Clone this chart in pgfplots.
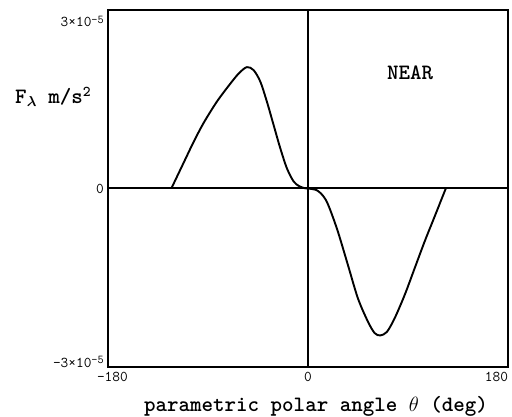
\documentclass[border=0pt]{standalone}
\usepackage{fontspec}
\usepackage{pgfplots}
\pgfplotsset{compat=1.18}

% tick labels: typewriter, superscript exponent
\newcommand{\sci}[2]{#1×10\raisebox{0.55ex}{\fontsize{12}{12}\selectfont #2}}

\begin{document}
\begin{tikzpicture}
\begin{axis}[
  name=ax, at={(0,0)}, anchor=south west,
  scale only axis, width=400bp, height=357bp,
  xmin=-180, xmax=180, ymin=-3e-5, ymax=3e-5,
  scaled y ticks=false,
  xtick={-180,0,180},
  xticklabels={\makebox[0pt][l]{\hspace*{-11bp}-180},0,\makebox[0pt][r]{180}},
  ytick={-3e-5,0,3e-5},
  yticklabels={\raisebox{0bp}[0pt][0pt]{\sci{-3}{-5}},
               \raisebox{-5bp}[0pt][0pt]{0},
               \raisebox{-17bp}[0pt][0pt]{\sci{3}{-5}}},
  tick style={draw=none},
  ticklabel style={font=\ttfamily\fontsize{15}{15}\selectfont},
  xticklabel style={anchor=north, yshift=-2bp},
  yticklabel style={anchor=east, inner sep=0pt, xshift=-4bp},
  axis line style={line width=1.5bp},
  clip=false,
]
  % coordinate axes through the origin
  \draw[line width=2bp] (axis cs:-180,0) -- (axis cs:180,0);
  \draw[line width=1.5bp] (axis cs:0,-3e-5) -- (axis cs:0,3e-5);

  \addplot[black, line width=1.9bp, smooth] coordinates {
    (-123,0) (-112,0.43e-5) (-103,0.78e-5) (-94,1.10e-5) (-82,1.46e-5)
    (-70,1.76e-5) (-62,1.94e-5) (-55,2.04e-5) (-49,1.99e-5) (-43,1.80e-5)
    (-37,1.46e-5) (-31,1.07e-5) (-25,0.68e-5) (-19,0.34e-5) (-13,0.12e-5)
    (-8,0.04e-5) (-3,0.005e-5) (0,0) (4,-0.01e-5) (8,-0.03e-5)
    (12,-0.09e-5) (16,-0.19e-5) (20,-0.36e-5) (27,-0.73e-5) (36,-1.29e-5)
    (45,-1.85e-5) (54,-2.24e-5) (60,-2.43e-5) (65,-2.47e-5) (71,-2.41e-5)
    (78,-2.18e-5) (87,-1.79e-5) (96,-1.34e-5) (105,-0.89e-5) (114,-0.47e-5)
    (124,0)
  };

  \node[font=\ttfamily\bfseries\fontsize{22}{22}\selectfont] at (axis cs:92,1.94e-5) {NEAR};
\end{axis}
\node[font=\ttfamily\bfseries\fontsize{22}{22}\selectfont] at (-55bp,270bp)
  {F{\boldmath$_{\lambda}$} m/s\raisebox{0.7ex}{\fontsize{15}{15}\selectfont 2}};
\node[font=\ttfamily\bfseries\fontsize{22}{22}\selectfont] at (208bp,-39bp)
  {parametric polar angle $\theta$ (deg)};
\pgfresetboundingbox
\path[use as bounding box] (-108bp,-50bp) rectangle (404bp,367bp);
\end{tikzpicture}
\end{document}
